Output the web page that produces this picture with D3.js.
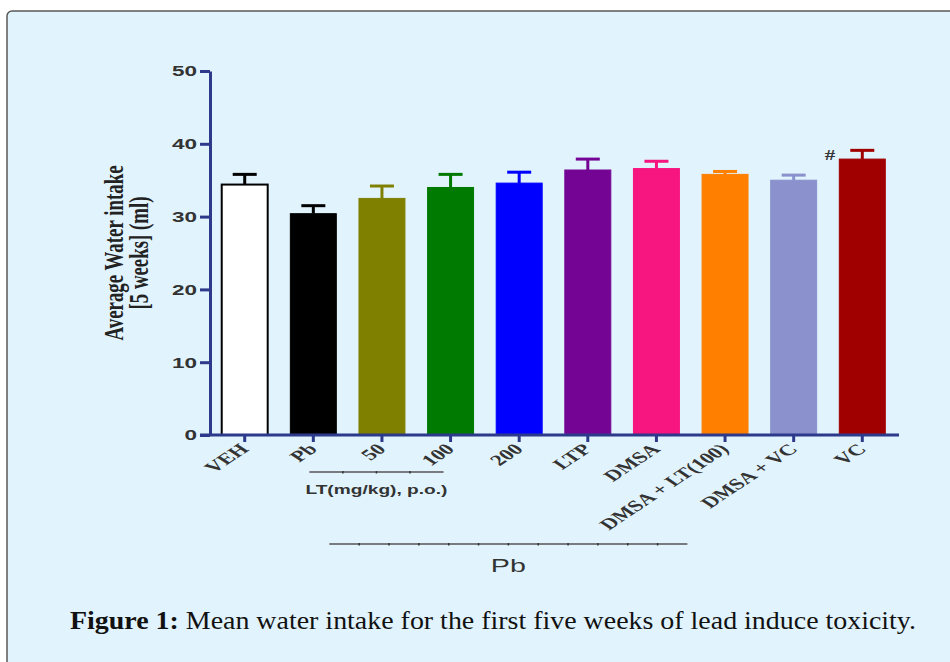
<!DOCTYPE html>
<html>
<head>
<meta charset="utf-8">
<script src="https://cdn.jsdelivr.net/npm/d3@7"></script>
<style>
  html, body { margin: 0; padding: 0; background: #fff; }
  svg { display: block; }
</style>
</head>
<body>
<svg width="950" height="662"></svg>
<script>
var groups = ['VEH', 'Pb', '50', '100', '200', 'LTP', 'DMSA', 'DMSA + LT(100)', 'DMSA + VC', 'VC'],
    means  = [34.4, 30.4, 32.5, 34.0, 34.6, 36.4, 36.6, 35.8, 35.0, 37.9],
    errors = [1.4, 1.1, 1.7, 1.8, 1.5, 1.5, 1.0, 0.4, 0.7, 1.2],
    colors = ['#ffffff', '#000000', '#808000', '#007a00', '#0000ff', '#740594', '#f7157f', '#ff8000', '#8a91cc', '#a00000'],
    yTicks = [0, 10, 20, 30, 40, 50];

// the source figure is stretched sideways, so the chart text is too
var stretch = 1.5;

var svg = d3.select('svg'),
    axisColor = '#2d3a8c',
    x = d3.scaleBand().domain(groups).range([208, 899]).paddingInner(0.33).paddingOuter(0.2),
    y = d3.scaleLinear().domain([0, 50]).range([435, 71]),
    cx = function(d) { return x(d) + x.bandwidth() / 2; };

// panel
svg.append('rect')
   .attr('x', 7).attr('y', 11)
   .attr('width', 960).attr('height', 670)
   .attr('rx', 5)
   .attr('fill', '#e1f3fd')
   .attr('stroke', '#5a5a5a')
   .attr('stroke-width', 1.5);

// bars
svg.append('g').selectAll('rect')
   .data(groups)
   .enter().append('rect')
     .attr('x', function(d) { return x(d); })
     .attr('y', function(d, i) { return y(means[i]); })
     .attr('width', x.bandwidth())
     .attr('height', function(d, i) { return y(0) - y(means[i]); })
     .attr('fill', function(d, i) { return colors[i]; })
     .attr('stroke', function(d, i) { return i === 0 ? '#000' : colors[i]; })
     .attr('stroke-width', function(d, i) { return i === 0 ? 2 : 1; });

// error bars
var err = svg.append('g').selectAll('g')
   .data(groups)
   .enter().append('g')
     .attr('stroke', function(d, i) { return i === 0 ? '#000' : colors[i]; })
     .attr('stroke-width', 3);

err.append('line')
   .attr('x1', cx)
   .attr('x2', cx)
   .attr('y1', function(d, i) { return y(means[i]); })
   .attr('y2', function(d, i) { return y(means[i] + errors[i]); });

err.append('line')
   .attr('x1', function(d) { return cx(d) - 12; })
   .attr('x2', function(d) { return cx(d) + 12; })
   .attr('y1', function(d, i) { return y(means[i] + errors[i]); })
   .attr('y2', function(d, i) { return y(means[i] + errors[i]); });

// '#' marker on VC
svg.append('text')
   .attr('transform', 'translate(' + (x('VC') - 4) + ',' + (y(means[9] + errors[9]) + 10) + ') scale(' + stretch + ',1)')
   .attr('text-anchor', 'end')
   .attr('font-family', 'Liberation Serif')
   .attr('font-weight', 'bold')
   .attr('font-size', 14)
   .attr('fill', '#333')
   .text('#');

// y axis
var yAxis = svg.append('g')
   .attr('transform', 'translate(210,0)')
   .call(d3.axisLeft(y).tickValues(yTicks).tickSize(10).tickSizeOuter(0).tickPadding(3));

// x axis
var xAxis = svg.append('g')
   .attr('transform', 'translate(0,' + y(0) + ')')
   .call(d3.axisBottom(x).tickSize(7).tickSizeOuter(0).tickFormat(''));

xAxis.select('.domain').attr('d', 'M200,0H899');

[yAxis, xAxis].forEach(function(a) {
  a.select('.domain').attr('stroke', axisColor).attr('stroke-width', 3);
  a.selectAll('.tick line').attr('stroke', axisColor).attr('stroke-width', 3);
});

yAxis.selectAll('.tick text')
   .attr('font-family', 'Liberation Sans, Arial, sans-serif')
   .attr('font-weight', 'bold')
   .attr('font-size', 15)
   .attr('fill', '#333')
   .attr('textLength', function(d) { return String(d).length * 12.5; })
   .attr('lengthAdjust', 'spacingAndGlyphs');

// rotated x labels
svg.append('g').selectAll('text')
   .data(groups)
   .enter().append('text')
     .attr('transform', function(d) {
       return 'translate(' + (cx(d) + 5) + ',' + (y(0) + 15) + ') scale(' + stretch + ',1) rotate(-45)';
     })
     .attr('text-anchor', 'end')
     .attr('font-family', 'Liberation Serif, Times New Roman, serif')
     .attr('font-weight', 'bold')
     .attr('font-size', 15.5)
     .attr('fill', '#333')
     .text(function(d) { return d; });

// y label
var ylab = svg.append('g')
   .attr('font-family', 'Liberation Serif, Times New Roman, serif')
   .attr('font-weight', 'bold')
   .attr('font-size', 18.5)
   .attr('fill', '#222')
   .attr('text-anchor', 'middle');

ylab.append('text')
   .attr('transform', 'translate(123,253) scale(' + stretch + ',1) rotate(-90)')
   .attr('textLength', 175)
   .attr('lengthAdjust', 'spacingAndGlyphs')
   .text('Average Water intake');

ylab.append('text')
   .attr('transform', 'translate(148,253) scale(' + stretch + ',1) rotate(-90)')
   .attr('textLength', 113)
   .attr('lengthAdjust', 'spacingAndGlyphs')
   .text('[5 weeks] (ml)');

// group brackets (drawn under the categories they span)
var brackets = [
  { from: 'Pb', to: '100', dx0: -4, dx1: -7, y: 472, segs: 4, label: 'LT(mg/kg), p.o.)', ly: 494, size: 13, weight: 'bold', len: 142 },
  { from: 'Pb', to: 'DMSA', dx0: 16, dx1: 31, y: 544, segs: 12, label: 'Pb', ly: 572, size: 19, weight: 'normal', len: 35 }
];

var br = svg.append('g').selectAll('g')
   .data(brackets)
   .enter().append('g');

br.append('line')
   .attr('x1', function(d) { return cx(d.from) + d.dx0; })
   .attr('x2', function(d) { return cx(d.to) + d.dx1; })
   .attr('y1', function(d) { return d.y; })
   .attr('y2', function(d) { return d.y; })
   .attr('stroke', '#555')
   .attr('stroke-width', 1.5);

// small dark marks along each bracket line
br.each(function(d) {
  var x0 = cx(d.from) + d.dx0,
      step = (cx(d.to) + d.dx1 - x0) / d.segs;
  d3.select(this).selectAll('.mark')
    .data(d3.range(1, d.segs))
    .enter().append('line')
      .attr('class', 'mark')
      .attr('x1', function(k) { return x0 + k * step; })
      .attr('x2', function(k) { return x0 + k * step; })
      .attr('y1', d.y - 1)
      .attr('y2', d.y + 1.5)
      .attr('stroke', '#333')
      .attr('stroke-width', 1.5);
});

br.append('text')
   .attr('x', function(d) { return (cx(d.from) + d.dx0 + cx(d.to) + d.dx1) / 2; })
   .attr('y', function(d) { return d.ly; })
   .attr('text-anchor', 'middle')
   .attr('font-family', 'Liberation Sans, Arial, sans-serif')
   .attr('font-size', function(d) { return d.size; })
   .attr('font-weight', function(d) { return d.weight; })
   .attr('textLength', function(d) { return d.len; })
   .attr('lengthAdjust', 'spacingAndGlyphs')
   .attr('fill', '#333')
   .text(function(d) { return d.label; });

// caption
var cap = svg.append('text')
   .attr('x', 70)
   .attr('y', 629)
   .attr('font-family', 'Liberation Serif, Times New Roman, serif')
   .attr('font-size', 25)
   .attr('fill', '#111')
   .attr('textLength', 846)
   .attr('lengthAdjust', 'spacingAndGlyphs');

cap.append('tspan').attr('font-weight', 'bold').text('Figure 1:');
cap.append('tspan').text(' Mean water intake for the first five weeks of lead induce toxicity.');
</script>
</body>
</html>
